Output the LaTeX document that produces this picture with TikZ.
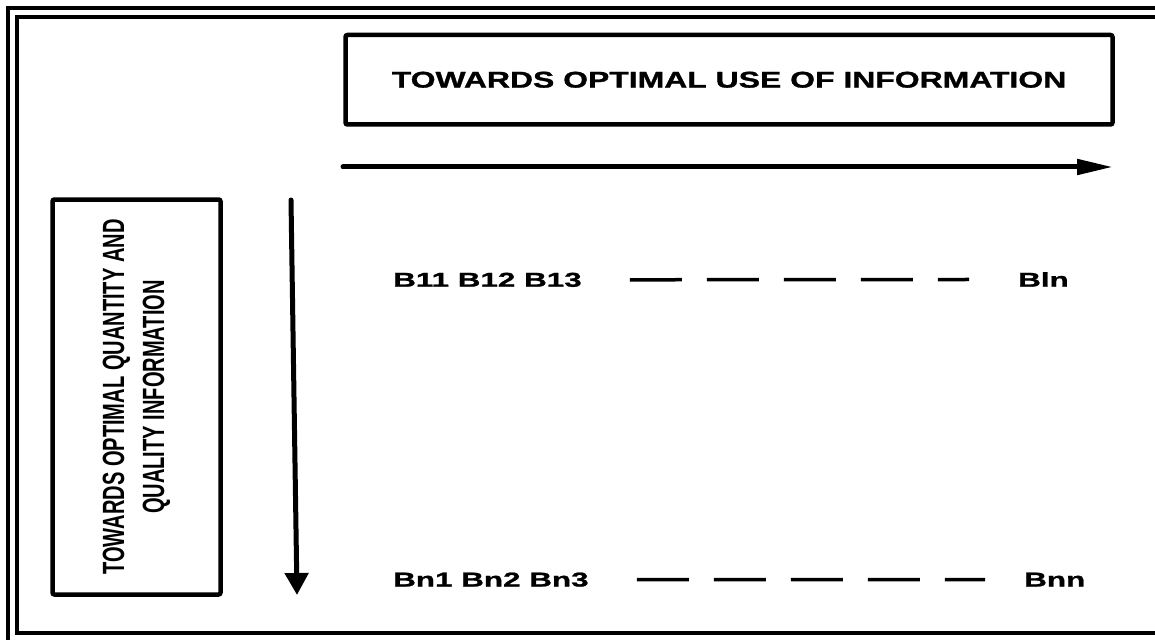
\documentclass[tikz,border=0pt]{standalone}
\usepackage{fontspec}
\setmainfont{Liberation Sans}
\newfontfamily\titlefont[FakeStretch=1.4,FakeBold=1.2]{Liberation Sans}
\newfontfamily\labfont[FakeStretch=1.57,FakeBold=1.2]{Liberation Sans}
\newfontfamily\narrowfont[FakeStretch=0.654]{Liberation Sans}
\usetikzlibrary{arrows.meta}
\tikzset{
  framebox/.style={draw, line width=4pt},
  textbox/.style={draw, line width=4.5pt, rounded corners=2pt, inner sep=0pt},
  rowlabel/.style={inner sep=0pt, anchor=base west, font=\labfont\bfseries\fontsize{20}{24}\selectfont},
  dashrow/.style={line width=3.5pt, dash pattern=on 52pt off 25pt},
  bigarrow/.style={line width=5pt, line cap=round}
}
\begin{document}
\begin{tikzpicture}[x=1pt,y=-1pt]
\useasboundingbox (0,0) rectangle (1155,639);
% frame
\draw[framebox] (8,8) rectangle (1200,700);
\draw[framebox] (16.5,17) rectangle (1190,632.5);
% title box
\node[textbox, minimum width=767pt, minimum height=89.5pt,
      font=\titlefont\bfseries\fontsize{22.8}{27}\selectfont] (title) at (729,79.75)
  {TOWARDS OPTIMAL USE OF INFORMATION};
% left box
\node[textbox, rotate=90, minimum width=395pt, minimum height=168pt, align=center,
      font=\narrowfont\bfseries\fontsize{30.7}{40}\selectfont] (side) at (136.5,397)
  {TOWARDS OPTIMAL QUANTITY AND\\QUALITY INFORMATION};
% arrows
\coordinate (h1) at (343,167);
\coordinate (h2) at (1113,167);
\draw[bigarrow, -{Triangle[length=36pt,width=15pt]}] (h1) -- (h2);
\coordinate (v1) at (291,200);
\coordinate (v2) at (297,595);
\draw[bigarrow, -{Triangle[length=22pt,width=23pt]}] (v1) -- (v2);
% rows
\node[rowlabel] (b11) at (393,286.7) {B11 B12 B13};
\node[rowlabel] (bln) at (1018,286.7) {Bln};
\node[rowlabel] (bn1) at (393,586.5) {Bn1 Bn2 Bn3};
\node[rowlabel] (bnn) at (1024,586.5) {Bnn};
\draw[dashrow, shorten <=48pt, shorten >=49pt] (b11.east) -- (bln.west);
\draw[dashrow, shorten <=48pt, shorten >=39pt] (bn1.east) -- (bnn.west);
\end{tikzpicture}
\end{document}
